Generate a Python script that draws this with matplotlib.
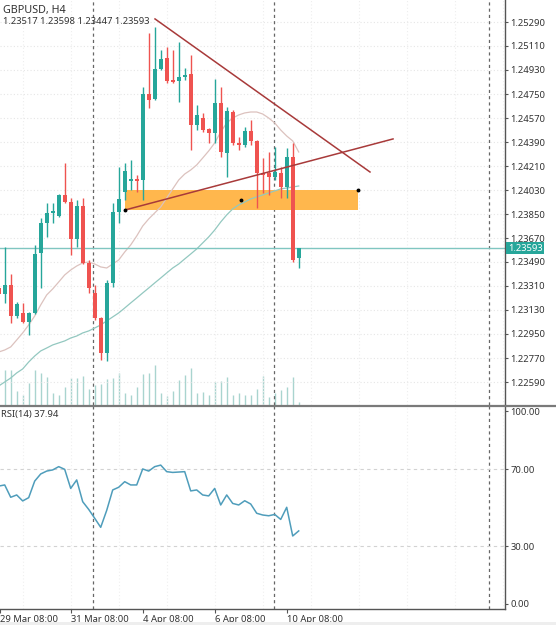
import numpy as np
import matplotlib
matplotlib.use("Agg")
import matplotlib.pyplot as plt
from matplotlib.patches import Rectangle
from matplotlib.lines import Line2D

plt.rcParams["font.family"] = ["Noto Sans", "DejaVu Sans"]

# --- GBPUSD H4 candles ---
opens = [1.23295, 1.23250, 1.23318, 1.23085, 1.23108, 1.23040, 1.23108, 1.23558, 1.23783, 1.23858,
         1.23835, 1.23993, 1.23940, 1.23663, 1.23910, 1.23483, 1.23258, 1.23070, 1.22808, 1.23333,
         1.23865, 1.24015, 1.24098, 1.24113, 1.24105, 1.24750, 1.24713, 1.24938, 1.25020, 1.24855,
         1.24848, 1.24878, 1.24900, 1.24518, 1.24570, 1.24488, 1.24458, 1.24683, 1.24308, 1.24615,
         1.24383, 1.24368, 1.24473, 1.24398, 1.24158, 1.24158, 1.24128, 1.24158, 1.24053, 1.24278,
         1.23517]
highs = [1.23318, 1.23603, 1.23400, 1.23190, 1.23183, 1.23115, 1.23618, 1.23820, 1.23933, 1.23933,
         1.24000, 1.24233, 1.23970, 1.23955, 1.23970, 1.23505, 1.23318, 1.23078, 1.23355, 1.23933,
         1.24203, 1.24233, 1.24255, 1.24143, 1.24803, 1.25208, 1.25253, 1.25080, 1.25103, 1.25080,
         1.25140, 1.24945, 1.25043, 1.24668, 1.24608, 1.24495, 1.24863, 1.24803, 1.24653, 1.24630,
         1.24428, 1.24503, 1.24555, 1.24405, 1.24270, 1.24315, 1.24353, 1.24203, 1.24345, 1.24383,
         1.23598]
lows = [1.23228, 1.23183, 1.23033, 1.23070, 1.23033, 1.22943, 1.23100, 1.23295, 1.23678, 1.23783,
        1.23828, 1.23933, 1.23543, 1.23603, 1.23475, 1.23258, 1.23055, 1.22755, 1.22748, 1.23303,
        1.23783, 1.23955, 1.24030, 1.24015, 1.23955, 1.24645, 1.24705, 1.24930, 1.24833, 1.24833,
        1.24690, 1.24855, 1.24330, 1.24480, 1.24465, 1.24383, 1.24383, 1.24278, 1.24128, 1.24368,
        1.24330, 1.24353, 1.24368, 1.23895, 1.24008, 1.23993, 1.24105, 1.23970, 1.23970, 1.23490,
        1.23447]
closes = [1.23250, 1.23318, 1.23085, 1.23175, 1.23040, 1.23108, 1.23550, 1.23783, 1.23858, 1.23873,
          1.23993, 1.23940, 1.23663, 1.23910, 1.23483, 1.23295, 1.23070, 1.22808, 1.23333, 1.23865,
          1.23963, 1.24173, 1.24113, 1.24098, 1.24750, 1.24705, 1.24938, 1.25013, 1.24848, 1.24840,
          1.24878, 1.24893, 1.24518, 1.24593, 1.24480, 1.24458, 1.24683, 1.24315, 1.24623, 1.24383,
          1.24368, 1.24473, 1.24398, 1.24158, 1.24143, 1.24128, 1.24165, 1.24053, 1.24278, 1.23505,
          1.23593]
volumes = [6000, 7000, 7000, 2800, 2000, 4400, 7000, 6400, 5600, 2400,
           2000, 3600, 5400, 5400, 5800, 3200, 4000, 4200, 5200, 5400,
           6400, 2400, 2000, 3600, 6200, 6400, 8000, 2400, 1800, 2800,
           5000, 6000, 7400, 2400, 2600, 2000, 4600, 4800, 5600, 2000,
           2400, 2000, 2000, 3200, 5800, 1600, 2400, 3000, 3600, 5600,
           600]
ma_fast = [1.22815, 1.22830, 1.22853, 1.22905, 1.22958, 1.23018, 1.23085, 1.23168, 1.23243, 1.23288,
           1.23340, 1.23393, 1.23430, 1.23460, 1.23483, 1.23490, 1.23475, 1.23453, 1.23445, 1.23475,
           1.23505, 1.23565, 1.23618, 1.23685, 1.23760, 1.23813, 1.23858, 1.23903, 1.23970, 1.24038,
           1.24105, 1.24150, 1.24180, 1.24218, 1.24270, 1.24323, 1.24383, 1.24465, 1.24533, 1.24570,
           1.24593, 1.24608, 1.24615, 1.24615, 1.24600, 1.24570, 1.24533, 1.24480, 1.24435, 1.24398,
           1.24315]
ma_slow = [1.22560, 1.22590, 1.22620, 1.22658, 1.22688, 1.22740, 1.22785, 1.22823, 1.22845, 1.22868,
           1.22883, 1.22898, 1.22920, 1.22935, 1.22958, 1.22973, 1.22995, 1.23018, 1.23048, 1.23078,
           1.23108, 1.23145, 1.23183, 1.23220, 1.23258, 1.23295, 1.23333, 1.23370, 1.23408, 1.23445,
           1.23475, 1.23513, 1.23550, 1.23588, 1.23633, 1.23678, 1.23730, 1.23790, 1.23843, 1.23888,
           1.23918, 1.23940, 1.23963, 1.23978, 1.23993, 1.24008, 1.24023, 1.24038, 1.24045, 1.24053,
           1.24060]
rsi = [61.2, 61.8, 55.4, 56.6, 53.5, 55.2, 63.8, 67.5, 69.0, 69.6,
       71.3, 69.9, 60.0, 64.4, 53.1, 49.1, 44.5, 39.8, 48.6, 59.2,
       60.6, 63.5, 61.8, 61.8, 70.1, 69.0, 71.3, 72.1, 68.7, 68.3,
       68.5, 68.7, 58.7, 59.2, 56.6, 56.1, 60.0, 51.4, 56.6, 52.2,
       51.4, 53.6, 51.9, 47.1, 46.2, 45.8, 46.5, 43.9, 50.2, 35.3,
       37.94]

price_ticks = [1.22590, 1.22770, 1.22950, 1.23130, 1.23310, 1.23490, 1.23670, 1.23850,
               1.24030, 1.24210, 1.24390, 1.24570, 1.24750, 1.24930, 1.25110, 1.25290]
rsi_ticks = [0, 30, 70, 100]
date_bars = [0.25, 12, 24, 36, 48]
date_labels = ["29 Mar 08:00", "31 Mar 08:00", "4 Apr 08:00", "6 Apr 08:00", "10 Apr 08:00"]
separators = [15.75, 45.9, 81.7]

# drawn objects (bar index, price)
zone_bars = [21.05, 59.88]
zone_prices = [1.23880, 1.24030]
zone_mid = (40.4, 1.23955)
down_line = ([26.05, 61.88], [1.25313, 1.24165])
up_line = ([21.05, 65.72], [1.23880, 1.24413])

GREEN, RED = "#26a69a", "#ef5350"
W, H = 556, 625


def rect(x0, y0, x1, y1):
    return [x0 / W, 1 - y1 / H, (x1 - x0) / W, (y1 - y0) / H]


bars = np.arange(len(opens))
o, hi, lo, c = map(np.array, (opens, highs, lows, closes))
colors = [GREEN if cc >= oo else RED for oo, cc in zip(o, c)]

fig = plt.figure(figsize=(5.56, 6.25), dpi=100, facecolor="white")
ax = fig.add_axes(rect(0, 0, 505, 405))
rsi_ax = fig.add_axes(rect(0, 405, 505, 609), sharex=ax)

# volume on a hidden twin axis, behind the candles
vol_ax = ax.twinx()
vol_ax.vlines(bars, 0, volumes, color="#a9d4cf", lw=1)
vol_ax.set_ylim(0, 81000)
vol_ax.set_yticks([])
for s in vol_ax.spines.values():
    s.set_visible(False)
ax.set_zorder(vol_ax.get_zorder() + 1)
ax.patch.set_visible(False)

# grid
for p in price_ticks:
    ax.axhline(p, color="#e6e6e6", lw=0.8, ls=(0, (1, 2)), zorder=0)
for b in range(4, 90, 8):
    ax.axvline(b, color="#eeeeee", lw=0.8, ls=(0, (1, 2)), zorder=0)
    rsi_ax.axvline(b, color="#f0f0f0", lw=0.8, ls=(0, (1, 2)), zorder=0)
for s in separators:
    ax.axvline(s, color="#666666", lw=0.9, ls=(0, (2.5, 2.5)), zorder=1)
    rsi_ax.axvline(s, color="#666666", lw=0.9, ls=(0, (2.5, 2.5)), zorder=1)

# supply/demand zone
ax.add_patch(Rectangle((zone_bars[0], zone_prices[0]), zone_bars[1] - zone_bars[0],
                       zone_prices[1] - zone_prices[0], fc="#ffb74d", ec="none", zorder=1))

# moving averages
ax.plot(bars, ma_fast, color="#dcc2be", lw=0.9, zorder=2)
ax.plot(bars, ma_slow, color="#93c8c0", lw=0.9, zorder=2)

# current price line
ax.axhline(closes[-1], color="#80c6c1", lw=1, zorder=2)

# candles
ax.vlines(bars, lo, hi, colors=colors, lw=1, zorder=3)
ax.bar(bars, np.maximum(np.abs(c - o), 0.00012), bottom=np.minimum(o, c),
       width=0.68, color=colors, lw=0, zorder=4)

# trend lines + anchor dots
ax.plot(*down_line, color="#a83a3a", lw=1.1, zorder=5)
ax.plot(*up_line, color="#a83a3a", lw=1.1, zorder=5)
ax.plot([zone_bars[0], zone_bars[1], zone_mid[0]],
        [zone_prices[0], zone_prices[1], zone_mid[1]],
        "o", ms=1.8, color="black", zorder=6)

ax.set_xlim(0.217, 84.38)
ax.set_ylim(1.224175, 1.25455)
ax.yaxis.tick_right()
ax.set_yticks(price_ticks)
ax.set_yticklabels([f"{p:.5f}" for p in price_ticks])
ax.tick_params(axis="y", length=2.5, width=0.8, color="#555555", pad=1.5,
               labelsize=6.8, labelcolor="#333333")
ax.tick_params(axis="x", bottom=False, labelbottom=False)
for side in ("top", "left", "bottom"):
    ax.spines[side].set_visible(False)
ax.spines["right"].set_color("#555555")
ax.spines["right"].set_linewidth(1)

ax.text(1.006, closes[-1], f"{closes[-1]:.5f}", transform=ax.get_yaxis_transform(),
        ha="left", va="center", color="white", fontsize=6.8, clip_on=False, zorder=10,
        bbox=dict(boxstyle="square,pad=0.18", fc=GREEN, ec="none"))

# RSI panel
rsi_ax.plot(bars, rsi, color="#4f9dbb", lw=1.1, zorder=3)
for lvl in (30, 70):
    rsi_ax.axhline(lvl, color="#d2d2d2", lw=0.8, ls=(0, (3, 3)), zorder=1)
rsi_ax.set_ylim(-2.6, 103.3)
rsi_ax.yaxis.tick_right()
rsi_ax.set_yticks(rsi_ticks)
rsi_ax.set_yticklabels([f"{t:.2f}" for t in rsi_ticks])
rsi_ax.set_xticks(date_bars)
rsi_ax.set_xticklabels(date_labels, ha="left")
rsi_ax.tick_params(axis="y", length=2.5, width=0.8, color="#555555", pad=1.5,
                   labelsize=6.8, labelcolor="#333333")
rsi_ax.tick_params(axis="x", length=3, width=0.8, color="#555555", pad=1.5,
                   labelsize=6.8, labelcolor="#333333")
for side in ("top", "left"):
    rsi_ax.spines[side].set_visible(False)
for side in ("right", "bottom"):
    rsi_ax.spines[side].set_color("#555555")
    rsi_ax.spines[side].set_linewidth(1)
rsi_ax.set_xlim(0.217, 84.38)

# panel separator and header texts
fig.add_artist(Line2D([0, 1], [1 - 405.5 / H] * 2, transform=fig.transFigure,
                      color="#7a7a7a", lw=1.6))
fig.add_artist(Rectangle((0, 0), 1, 3 / H, transform=fig.transFigure,
                         fc="#eeeeee", ec="none"))
fig.text(3 / W, 1 - 10.5 / H, "GBPUSD, H4", fontsize=7.8, va="center", color="#333333")
fig.text(3 / W, 1 - 22 / H,
         f"{opens[-1]:.5f} {highs[-1]:.5f} {lows[-1]:.5f} {closes[-1]:.5f}",
         fontsize=6.8, va="center", color="#333333")
fig.text(1 / W, 1 - 415 / H, f"RSI(14) {rsi[-1]:.2f}", fontsize=6.8, va="center",
         color="#333333")

fig.savefig("out.png", dpi=100)
